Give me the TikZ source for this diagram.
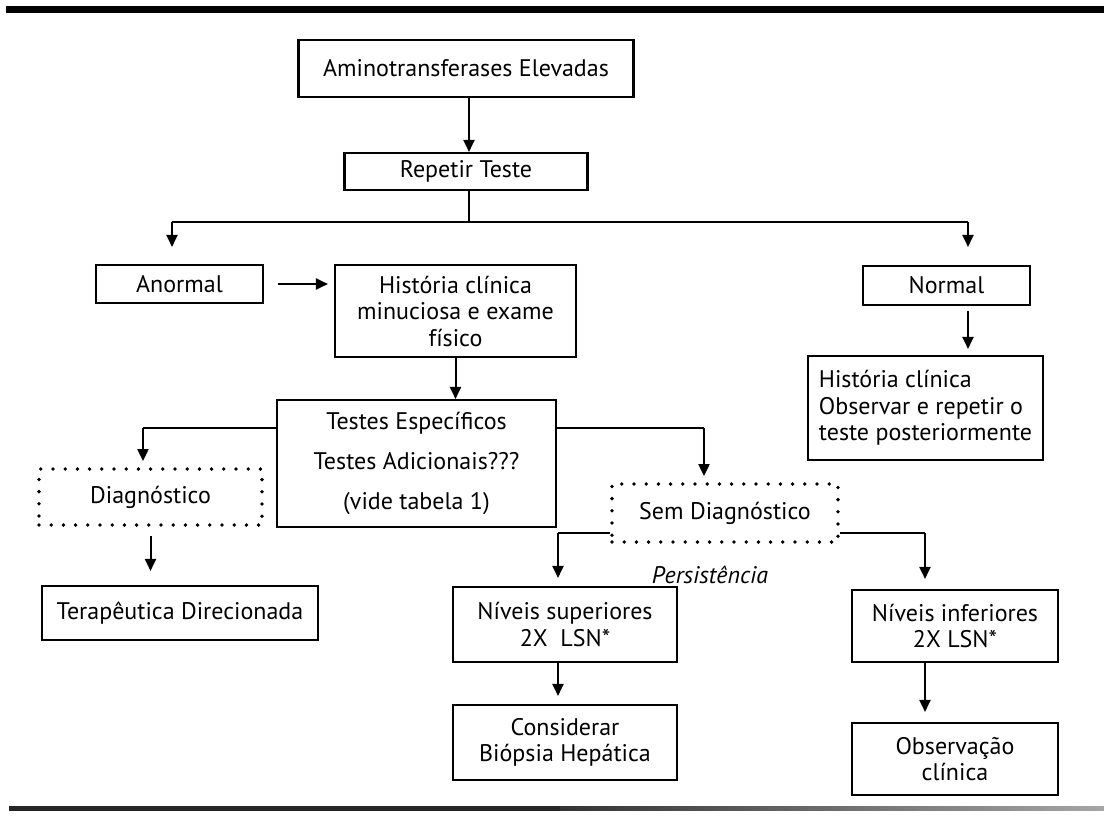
\documentclass[tikz,border=0pt]{standalone}
\usepackage{fontspec}
\setmainfont{PT Sans}
\usetikzlibrary{arrows.meta}
\begin{document}
\begin{tikzpicture}[x=1pt,y=-1pt,
  txt/.style={font=\fontsize{24}{26.5}\selectfont},
  box/.style={draw, line width=2.1pt, inner sep=0pt, align=center, txt},
  dotbox/.style={draw, line width=3.8pt, dash pattern=on 0pt off 12.2pt, line cap=round, inner sep=0pt, align=center, txt},
  conn/.style={line width=2pt},
  arr/.style={line width=2pt, -{Triangle[width=11pt,length=12pt]}}
]
\useasboundingbox (0,0) rectangle (1104,815);
\fill[white] (0,0) rectangle (1104,815);
% rules
\fill[black] (6,6) rectangle (1104,12.5);
\fill[black!85] (9,806) rectangle (560,810.5);
\shade[left color=black!80, right color=black!35] (560,806) rectangle (1104,810.5);

% nodes
\node[box, minimum width=335pt, minimum height=57pt] (A) at (466,68.5) {Aminotransferases Elevadas};
\node[box, minimum width=243pt, minimum height=37pt] (R) at (466,171.5) {Repetir Teste};
\node[box, minimum width=167pt, minimum height=38pt] (Anormal) at (179.5,284) {Anormal};
\node[box, minimum width=241pt, minimum height=92pt] (Hist1) at (455.5,311) {História clínica\\minuciosa e exame\\físico};
\node[box, minimum width=167pt, minimum height=39pt] (Normal) at (946.5,285.5) {Normal};
\node[draw, line width=2.1pt, txt, align=left, inner sep=0pt, minimum width=235pt, minimum height=104pt] (Hist2) at (925.5,408) {História clínica\\Observar e repetir o\\teste posteriormente};
\node[box, minimum width=279pt, minimum height=127pt, font=\fontsize{24}{40}\selectfont] (Testes) at (416.5,463.5) {Testes Específicos\\Testes Adicionais???\\(vide tabela 1)};
\node[dotbox, minimum width=223pt, minimum height=56pt] (Diag) at (150.5,497) {Diagnóstico};
\node[dotbox, minimum width=226pt, minimum height=58pt] (Sem) at (725,513) {Sem Diagnóstico};
\node[box, minimum width=276pt, minimum height=54pt] (Terap) at (180,613) {Terapêutica Direcionada};
\node[box, minimum width=224pt, minimum height=75pt] (NivSup) at (565,624.5) {Níveis superiores\\2X\ \ LSN*};
\node[box, minimum width=224pt, minimum height=75pt] (Consid) at (565,742.5) {Considerar\\Biópsia Hepática};
\node[box, minimum width=206pt, minimum height=72pt] (NivInf) at (955,626) {Níveis inferiores\\2X LSN*};
\node[box, minimum width=206pt, minimum height=72pt] (Obs) at (955,759) {Observação\\clínica};
\node[font=\fontsize{24}{26}\selectfont\itshape] (Pers) at (710,575) {Persistência};

% coordinates
\coordinate (split) at (469,222);
\coordinate (sl) at (172,222);
\coordinate (sr) at (968,222);
\coordinate (tl) at (143,428);
\coordinate (tr) at (704,428);
\coordinate (sl2) at (558,533);
\coordinate (sr2) at (925,533);

% connectors
\draw[arr] (A.south -| split) -- (R.north -| split);
\draw[conn] (R.south -| split) -- (split);
\draw[conn] (sl) -- (sr);
\draw[arr, shorten >=17pt] (sl) -- (sl |- Anormal.north);
\draw[arr, shorten >=18pt] (sr) -- (sr |- Normal.north);
\draw[arr, shorten <=14pt, shorten >=6pt] (Anormal.east) -- (Anormal.east -| Hist1.west);
\draw[arr, shorten <=5pt, shorten >=6pt] (Normal.south -| sr) -- (sr |- Hist2.north);
\draw[arr] (Hist1.south) -- (Hist1.south |- Testes.north);
\draw[conn] (Testes.west |- tl) -- (tl);
\draw[arr, shorten >=6pt] (tl) -- (tl |- Diag.north);
\draw[conn] (Testes.east |- tr) -- (tr);
\draw[arr, shorten >=6pt] (tr) -- (tr |- Sem.north);
\draw[arr, shorten <=9pt, shorten >=14pt] (Diag.south) -- (Diag.south |- Terap.north);
\draw[conn] (Sem.west |- sl2) -- (sl2);
\draw[arr, shorten >=8pt] (sl2) -- (sl2 |- NivSup.north);
\draw[conn] (Sem.east |- sr2) -- (sr2);
\draw[arr, shorten >=10pt] (sr2) -- (sr2 |- NivInf.north);
\draw[arr, shorten >=8pt] (NivSup.south -| sl2) -- (sl2 |- Consid.north);
\draw[arr, shorten >=10pt] (NivInf.south -| sr2) -- (sr2 |- Obs.north);
\end{tikzpicture}
\end{document}
